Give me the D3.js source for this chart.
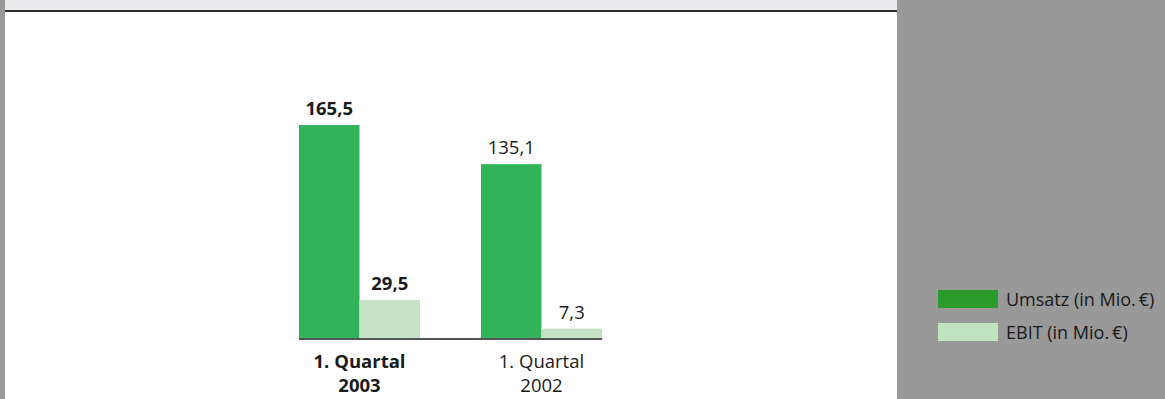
<!DOCTYPE html>
<html><head><meta charset="utf-8">
<script src="https://cdn.jsdelivr.net/npm/d3@7"></script>
<style>html,body{margin:0;padding:0;background:#fff;overflow:hidden}</style>
</head><body>
<script>
const categories = ["1. Quartal 2003", "1. Quartal 2002"];
const catLines = [["1. Quartal", "2003"], ["1. Quartal", "2002"]];
const series = ["Umsatz (in Mio.\u2009€)", "EBIT (in Mio.\u2009€)"];
const umsatz = [165.5, 135.1];
const ebit = [29.5, 7.3];
const valueLabels = [["165,5", "29,5"], ["135,1", "7,3"]];
const boldCat = [true, false];

const W = 1165, H = 399;
const svg = d3.select("body").append("svg").attr("width", W).attr("height", H);
const font = "'Open Sans', sans-serif";

// background panels
svg.append("rect").attr("x", 0).attr("y", 0).attr("width", W).attr("height", H).attr("fill", "#fff");
svg.append("rect").attr("x", 0).attr("y", 0).attr("width", 897).attr("height", 11).attr("fill", "#ebebed");
svg.append("rect").attr("x", 0).attr("y", 10).attr("width", 897).attr("height", 2).attr("fill", "#2e2e30");
svg.append("rect").attr("x", 0).attr("y", 0).attr("width", 5).attr("height", H).attr("fill", "#999");
svg.append("rect").attr("x", 897).attr("y", 0).attr("width", W - 897).attr("height", H).attr("fill", "#999");

const colors = ["#34b45a", "#c5e3c7"];
const legendColors = ["#2a9a2a", "#c0e4c0"];

const xg = d3.scaleBand().domain(categories).range([299, 602]).paddingInner(0.335).paddingOuter(0);
const x1 = d3.scaleBand().domain([0, 1]).range([0, xg.bandwidth()]);
const y = d3.scaleLinear().domain([0, 165.5]).range([338, 125]);

const data = categories.map((c, i) => ({ c, i, vals: [umsatz[i], ebit[i]] }));
const g = svg.append("g");
data.forEach(d => {
  d.vals.forEach((v, k) => {
    const bx = xg(d.c) + x1(k);
    g.append("rect").attr("x", bx).attr("y", y(v)).attr("width", x1.bandwidth()).attr("height", y(0) - y(v)).attr("fill", colors[k]);
    g.append("text").attr("x", bx + x1.bandwidth() / 2).attr("y", y(v) - 10)
      .attr("text-anchor", "middle").attr("font-family", font).attr("font-size", 18.5)
      .attr("font-weight", boldCat[d.i] ? 700 : 400).attr("fill", "#1a1a1a").text(valueLabels[d.i][k]);
  });
  catLines[d.i].forEach((t, li) => {
    g.append("text").attr("x", xg(d.c) + xg.bandwidth() / 2).attr("y", 368 + li * 24)
      .attr("text-anchor", "middle").attr("font-family", font).attr("font-size", 18.5)
      .attr("font-weight", boldCat[d.i] ? 700 : 400).attr("fill", "#1a1a1a").text(t);
  });
});
// baseline
svg.append("line").attr("x1", 299).attr("x2", 602).attr("y1", y(0) + 1).attr("y2", y(0) + 1)
  .attr("stroke", "#555").attr("stroke-width", 2);

// legend
series.forEach((s, k) => {
  const ly = 290 + k * 33;
  svg.append("rect").attr("x", 938).attr("y", ly).attr("width", 60).attr("height", 18).attr("fill", legendColors[k]);
  svg.append("text").attr("x", 1006).attr("y", ly + 16).attr("font-family", font).attr("font-size", 18)
    .attr("fill", "#1a1a1a").text(s);
});
</script>
</body></html>
